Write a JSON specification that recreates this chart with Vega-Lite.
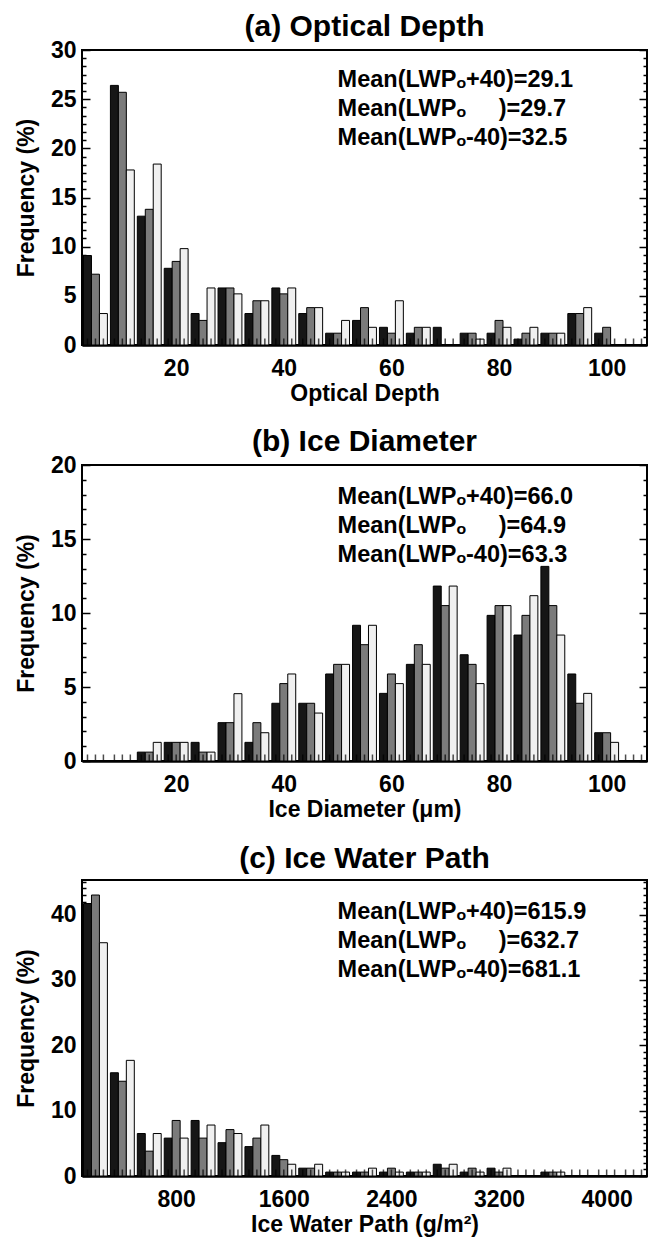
{
  "$schema": "https://vega.github.io/schema/vega-lite/v6.json",
  "padding": {"left": 14, "right": 4, "top": 11, "bottom": 2},
  "background": "white",
  "config": {
    "font": "Liberation Sans",
    "view": {"stroke": "black", "strokeWidth": 2},
    "axis": {
      "labelFont": "Liberation Sans", "labelFontSize": 23, "labelFontWeight": "bold", "labelColor": "black",
      "titleFont": "Liberation Sans", "titleFontSize": 23, "titleFontWeight": "bold", "titleColor": "black",
      "grid": false, "tickColor": "black", "tickWidth": 1.5, "domainColor": "black",
      "labelOverlap": false, "labelFlush": false
    },
    "title": {"font": "Liberation Sans", "fontSize": 30, "fontWeight": "bold", "color": "black", "frame": "group", "anchor": "middle", "offset": -3},
    "concat": {"spacing": 20}
  },
  "vconcat": [
    {
      "title": {"text": "(a) Optical Depth"},
      "width": 565, "height": 295,
      "data": {"values": [
        {"bin": 5, "plus40": 9.1, "base": 7.2, "minus40": 3.2},
        {"bin": 10, "plus40": 26.4, "base": 25.7, "minus40": 17.8},
        {"bin": 15, "plus40": 13.1, "base": 13.8, "minus40": 18.4},
        {"bin": 20, "plus40": 7.8, "base": 8.5, "minus40": 9.8},
        {"bin": 25, "plus40": 3.2, "base": 2.5, "minus40": 5.8},
        {"bin": 30, "plus40": 5.8, "base": 5.8, "minus40": 5.2},
        {"bin": 35, "plus40": 3.2, "base": 4.5, "minus40": 4.5},
        {"bin": 40, "plus40": 5.8, "base": 5.2, "minus40": 5.8},
        {"bin": 45, "plus40": 3.2, "base": 3.8, "minus40": 3.8},
        {"bin": 50, "plus40": 1.2, "base": 1.2, "minus40": 2.5},
        {"bin": 55, "plus40": 2.5, "base": 3.8, "minus40": 1.8},
        {"bin": 60, "plus40": 1.8, "base": 1.2, "minus40": 4.5},
        {"bin": 65, "plus40": 1.2, "base": 1.8, "minus40": 1.8},
        {"bin": 70, "plus40": 1.8, "base": 0, "minus40": 0},
        {"bin": 75, "plus40": 1.2, "base": 1.2, "minus40": 0.6},
        {"bin": 80, "plus40": 1.2, "base": 2.5, "minus40": 1.8},
        {"bin": 85, "plus40": 0.6, "base": 1.2, "minus40": 1.8},
        {"bin": 90, "plus40": 1.2, "base": 1.2, "minus40": 1.2},
        {"bin": 95, "plus40": 3.2, "base": 3.2, "minus40": 3.8},
        {"bin": 100, "plus40": 1.2, "base": 1.8, "minus40": 0},
        {"bin": 105, "plus40": 0, "base": 0, "minus40": 0}
      ]},
      "layer": [
        {
          "transform": [{"fold": ["plus40", "base", "minus40"], "as": ["case", "freq"]}],
          "mark": {"type": "bar", "stroke": "black", "strokeWidth": 1},
          "encoding": {
            "x": {"field": "bin", "type": "ordinal", "scale": {"domain": [5,10,15,20,25,30,35,40,45,50,55,60,65,70,75,80,85,90,95,100,105], "paddingInner": 0, "paddingOuter": 0}, "axis": null},
            "xOffset": {"field": "case", "type": "nominal", "scale": {"domain": ["plus40", "base", "minus40"], "paddingInner": 0, "paddingOuter": 0.19}},
            "y": {"field": "freq", "type": "quantitative", "scale": {"domain": [0, 30], "nice": false},
              "axis": {"orient": "left", "domain": false, "title": "Frequency (%)", "titlePadding": 12, "labelPadding": 14,
                "values": [0,0.8333,1.6667,2.5,3.3333,4.1667,5,5.8333,6.6667,7.5,8.3333,9.1667,10,10.8333,11.6667,12.5,13.3333,14.1667,15,15.8333,16.6667,17.5,18.3333,19.1667,20,20.8333,21.6667,22.5,23.3333,24.1667,25,25.8333,26.6667,27.5,28.3333,29.1667,30],
                "labelExpr": "abs(datum.value/5 - round(datum.value/5)) < 0.01 ? format(round(datum.value), 'd') : ''",
                "tickSize": {"condition": {"test": "abs(datum.value/5 - round(datum.value/5)) < 0.01", "value": -8}, "value": -4}}},
            "color": {"field": "case", "type": "nominal", "scale": {"domain": ["plus40", "base", "minus40"], "range": ["#161616", "#7b7b7b", "#f0f0f0"]}, "legend": null}
          }
        },
        {
          "transform": [{"fold": ["plus40", "base", "minus40"], "as": ["case", "freq"]}],
          "mark": {"type": "tick", "orient": "vertical", "size": 7, "thickness": 1.5, "color": "black", "yOffset": -3},
          "encoding": {
            "x": {"field": "bin", "type": "ordinal", "scale": {"domain": [5,10,15,20,25,30,35,40,45,50,55,60,65,70,75,80,85,90,95,100,105], "paddingInner": 0, "paddingOuter": 0}, "axis": null},
            "xOffset": {"field": "case", "type": "nominal", "scale": {"domain": ["plus40", "base", "minus40"], "paddingInner": 0, "paddingOuter": 0.19}},
            "y": {"datum": 0, "type": "quantitative", "axis": null}
          }
        },
        {
          "data": {"values": [{"stats": "Mean(LWPₒ+40)=29.1\nMean(LWPₒ\u00a0\u00a0\u00a0\u00a0\u00a0)=29.7\nMean(LWPₒ-40)=32.5"}]},
          "mark": {"type": "text", "align": "left", "baseline": "alphabetic", "lineBreak": "\n", "lineHeight": 29, "fontSize": 23.5, "font": "Liberation Sans", "fontWeight": "bold", "color": "black"},
          "encoding": {
            "text": {"field": "stats"},
            "x": {"datum": 50, "type": "quantitative", "scale": {"domain": [2.5, 107.5], "nice": false, "zero": false},
              "axis": {"orient": "bottom", "values": [20, 40, 60, 80, 100], "format": "d", "ticks": false, "domain": true, "domainWidth": 2.5, "labelPadding": 12, "title": "Optical Depth", "titlePadding": 2}},
            "y": {"datum": 26.2, "type": "quantitative", "scale": {"domain": [0, 30], "nice": false},
              "axis": {"orient": "right", "domain": false, "labels": false, "title": null,
                "values": [0,0.8333,1.6667,2.5,3.3333,4.1667,5,5.8333,6.6667,7.5,8.3333,9.1667,10,10.8333,11.6667,12.5,13.3333,14.1667,15,15.8333,16.6667,17.5,18.3333,19.1667,20,20.8333,21.6667,22.5,23.3333,24.1667,25,25.8333,26.6667,27.5,28.3333,29.1667,30],
                "tickSize": {"condition": {"test": "abs(datum.value/5 - round(datum.value/5)) < 0.01", "value": -8}, "value": -4}}}
          }
        }
      ],
      "resolve": {"scale": {"x": "independent"}, "axis": {"x": "independent", "y": "independent"}}
    },
    {
      "title": {"text": "(b) Ice Diameter"},
      "width": 565, "height": 296,
      "data": {"values": [
        {"bin": 5, "plus40": 0, "base": 0, "minus40": 0},
        {"bin": 10, "plus40": 0, "base": 0, "minus40": 0},
        {"bin": 15, "plus40": 0.6, "base": 0.6, "minus40": 1.26},
        {"bin": 20, "plus40": 1.26, "base": 1.26, "minus40": 1.26},
        {"bin": 25, "plus40": 1.26, "base": 0.6, "minus40": 0.6},
        {"bin": 30, "plus40": 2.59, "base": 2.59, "minus40": 4.55},
        {"bin": 35, "plus40": 1.26, "base": 2.59, "minus40": 1.91},
        {"bin": 40, "plus40": 3.9, "base": 5.23, "minus40": 5.88},
        {"bin": 45, "plus40": 3.9, "base": 3.9, "minus40": 3.24},
        {"bin": 50, "plus40": 5.88, "base": 6.53, "minus40": 6.53},
        {"bin": 55, "plus40": 9.17, "base": 7.86, "minus40": 9.17},
        {"bin": 60, "plus40": 4.57, "base": 5.88, "minus40": 5.23},
        {"bin": 65, "plus40": 6.53, "base": 7.86, "minus40": 6.53},
        {"bin": 70, "plus40": 11.82, "base": 10.5, "minus40": 11.82},
        {"bin": 75, "plus40": 7.18, "base": 6.53, "minus40": 5.23},
        {"bin": 80, "plus40": 9.84, "base": 10.5, "minus40": 10.5},
        {"bin": 85, "plus40": 8.51, "base": 9.84, "minus40": 11.17},
        {"bin": 90, "plus40": 13.15, "base": 10.5, "minus40": 8.51},
        {"bin": 95, "plus40": 5.88, "base": 3.9, "minus40": 4.57},
        {"bin": 100, "plus40": 1.91, "base": 1.91, "minus40": 1.26},
        {"bin": 105, "plus40": 0, "base": 0, "minus40": 0}
      ]},
      "layer": [
        {
          "transform": [{"fold": ["plus40", "base", "minus40"], "as": ["case", "freq"]}],
          "mark": {"type": "bar", "stroke": "black", "strokeWidth": 1},
          "encoding": {
            "x": {"field": "bin", "type": "ordinal", "scale": {"domain": [5,10,15,20,25,30,35,40,45,50,55,60,65,70,75,80,85,90,95,100,105], "paddingInner": 0, "paddingOuter": 0}, "axis": null},
            "xOffset": {"field": "case", "type": "nominal", "scale": {"domain": ["plus40", "base", "minus40"], "paddingInner": 0, "paddingOuter": 0.19}},
            "y": {"field": "freq", "type": "quantitative", "scale": {"domain": [0, 20], "nice": false},
              "axis": {"orient": "left", "domain": false, "title": "Frequency (%)", "titlePadding": 12, "labelPadding": 14,
                "values": [0,1,2,3,4,5,6,7,8,9,10,11,12,13,14,15,16,17,18,19,20],
                "labelExpr": "datum.value % 5 === 0 ? datum.label : ''",
                "tickSize": {"condition": {"test": "datum.value % 5 === 0", "value": -8}, "value": -4}}},
            "color": {"field": "case", "type": "nominal", "scale": {"domain": ["plus40", "base", "minus40"], "range": ["#161616", "#7b7b7b", "#f0f0f0"]}, "legend": null}
          }
        },
        {
          "transform": [{"fold": ["plus40", "base", "minus40"], "as": ["case", "freq"]}],
          "mark": {"type": "tick", "orient": "vertical", "size": 7, "thickness": 1.5, "color": "black", "yOffset": -3},
          "encoding": {
            "x": {"field": "bin", "type": "ordinal", "scale": {"domain": [5,10,15,20,25,30,35,40,45,50,55,60,65,70,75,80,85,90,95,100,105], "paddingInner": 0, "paddingOuter": 0}, "axis": null},
            "xOffset": {"field": "case", "type": "nominal", "scale": {"domain": ["plus40", "base", "minus40"], "paddingInner": 0, "paddingOuter": 0.19}},
            "y": {"datum": 0, "type": "quantitative", "axis": null}
          }
        },
        {
          "data": {"values": [{"stats": "Mean(LWPₒ+40)=66.0\nMean(LWPₒ\u00a0\u00a0\u00a0\u00a0\u00a0)=64.9\nMean(LWPₒ-40)=63.3"}]},
          "mark": {"type": "text", "align": "left", "baseline": "alphabetic", "lineBreak": "\n", "lineHeight": 29, "fontSize": 23.5, "font": "Liberation Sans", "fontWeight": "bold", "color": "black"},
          "encoding": {
            "text": {"field": "stats"},
            "x": {"datum": 50, "type": "quantitative", "scale": {"domain": [2.5, 107.5], "nice": false, "zero": false},
              "axis": {"orient": "bottom", "values": [20, 40, 60, 80, 100], "format": "d", "ticks": false, "domain": true, "domainWidth": 2.5, "labelPadding": 12, "title": "Ice Diameter (μm)", "titlePadding": 2}},
            "y": {"datum": 17.36, "type": "quantitative", "scale": {"domain": [0, 20], "nice": false},
              "axis": {"orient": "right", "domain": false, "labels": false, "title": null,
                "values": [0,1,2,3,4,5,6,7,8,9,10,11,12,13,14,15,16,17,18,19,20],
                "tickSize": {"condition": {"test": "datum.value % 5 === 0", "value": -8}, "value": -4}}}
          }
        }
      ],
      "resolve": {"scale": {"x": "independent"}, "axis": {"x": "independent", "y": "independent"}}
    },
    {
      "title": {"text": "(c) Ice Water Path"},
      "width": 565, "height": 296,
      "data": {"values": [
        {"bin": 200, "plus40": 41.7, "base": 43.0, "minus40": 35.7},
        {"bin": 400, "plus40": 15.8, "base": 14.5, "minus40": 17.7},
        {"bin": 600, "plus40": 6.5, "base": 3.8, "minus40": 6.5},
        {"bin": 800, "plus40": 5.8, "base": 8.5, "minus40": 5.8},
        {"bin": 1000, "plus40": 8.5, "base": 5.8, "minus40": 7.8},
        {"bin": 1200, "plus40": 5.1, "base": 7.1, "minus40": 6.5},
        {"bin": 1400, "plus40": 4.5, "base": 5.8, "minus40": 7.8},
        {"bin": 1600, "plus40": 3.15, "base": 2.5, "minus40": 1.8},
        {"bin": 1800, "plus40": 1.2, "base": 1.2, "minus40": 1.8},
        {"bin": 2000, "plus40": 0.6, "base": 0.6, "minus40": 0.6},
        {"bin": 2200, "plus40": 0.6, "base": 0.6, "minus40": 1.2},
        {"bin": 2400, "plus40": 0.6, "base": 1.2, "minus40": 0.6},
        {"bin": 2600, "plus40": 0.6, "base": 0.6, "minus40": 0.6},
        {"bin": 2800, "plus40": 1.8, "base": 1.2, "minus40": 1.8},
        {"bin": 3000, "plus40": 0.6, "base": 1.2, "minus40": 0.6},
        {"bin": 3200, "plus40": 1.2, "base": 0.6, "minus40": 1.2},
        {"bin": 3400, "plus40": 0, "base": 0, "minus40": 0},
        {"bin": 3600, "plus40": 0.6, "base": 0.6, "minus40": 0.6},
        {"bin": 3800, "plus40": 0, "base": 0, "minus40": 0},
        {"bin": 4000, "plus40": 0, "base": 0, "minus40": 0},
        {"bin": 4200, "plus40": 0, "base": 0, "minus40": 0}
      ]},
      "layer": [
        {
          "transform": [{"fold": ["plus40", "base", "minus40"], "as": ["case", "freq"]}],
          "mark": {"type": "bar", "stroke": "black", "strokeWidth": 1},
          "encoding": {
            "x": {"field": "bin", "type": "ordinal", "scale": {"domain": [200,400,600,800,1000,1200,1400,1600,1800,2000,2200,2400,2600,2800,3000,3200,3400,3600,3800,4000,4200], "paddingInner": 0, "paddingOuter": 0}, "axis": null},
            "xOffset": {"field": "case", "type": "nominal", "scale": {"domain": ["plus40", "base", "minus40"], "paddingInner": 0, "paddingOuter": 0.19}},
            "y": {"field": "freq", "type": "quantitative", "scale": {"domain": [0, 45.3], "nice": false},
              "axis": {"orient": "left", "domain": false, "title": "Frequency (%)", "titlePadding": 12, "labelPadding": 14,
                "values": [0,1,2,3,4,5,6,7,8,9,10,11,12,13,14,15,16,17,18,19,20,21,22,23,24,25,26,27,28,29,30,31,32,33,34,35,36,37,38,39,40,41,42,43,44,45],
                "labelExpr": "datum.value % 10 === 0 ? datum.label : ''",
                "tickSize": {"condition": {"test": "datum.value % 10 === 0", "value": -8}, "value": -4}}},
            "color": {"field": "case", "type": "nominal", "scale": {"domain": ["plus40", "base", "minus40"], "range": ["#161616", "#7b7b7b", "#f0f0f0"]}, "legend": null}
          }
        },
        {
          "transform": [{"fold": ["plus40", "base", "minus40"], "as": ["case", "freq"]}],
          "mark": {"type": "tick", "orient": "vertical", "size": 7, "thickness": 1.5, "color": "black", "yOffset": -3},
          "encoding": {
            "x": {"field": "bin", "type": "ordinal", "scale": {"domain": [200,400,600,800,1000,1200,1400,1600,1800,2000,2200,2400,2600,2800,3000,3200,3400,3600,3800,4000,4200], "paddingInner": 0, "paddingOuter": 0}, "axis": null},
            "xOffset": {"field": "case", "type": "nominal", "scale": {"domain": ["plus40", "base", "minus40"], "paddingInner": 0, "paddingOuter": 0.19}},
            "y": {"datum": 0, "type": "quantitative", "axis": null}
          }
        },
        {
          "data": {"values": [{"stats": "Mean(LWPₒ+40)=615.9\nMean(LWPₒ\u00a0\u00a0\u00a0\u00a0\u00a0)=632.7\nMean(LWPₒ-40)=681.1"}]},
          "mark": {"type": "text", "align": "left", "baseline": "alphabetic", "lineBreak": "\n", "lineHeight": 29, "fontSize": 23.5, "font": "Liberation Sans", "fontWeight": "bold", "color": "black"},
          "encoding": {
            "text": {"field": "stats"},
            "x": {"datum": 2000, "type": "quantitative", "scale": {"domain": [100, 4300], "nice": false, "zero": false},
              "axis": {"orient": "bottom", "values": [800, 1600, 2400, 3200, 4000], "format": "d", "ticks": false, "domain": true, "domainWidth": 2.5, "labelPadding": 12, "title": "Ice Water Path (g/m²)", "titlePadding": 2}},
            "y": {"datum": 39.4, "type": "quantitative", "scale": {"domain": [0, 45.3], "nice": false},
              "axis": {"orient": "right", "domain": false, "labels": false, "title": null,
                "values": [0,1,2,3,4,5,6,7,8,9,10,11,12,13,14,15,16,17,18,19,20,21,22,23,24,25,26,27,28,29,30,31,32,33,34,35,36,37,38,39,40,41,42,43,44,45],
                "tickSize": {"condition": {"test": "datum.value % 10 === 0", "value": -8}, "value": -4}}}
          }
        }
      ],
      "resolve": {"scale": {"x": "independent"}, "axis": {"x": "independent", "y": "independent"}}
    }
  ]
}
